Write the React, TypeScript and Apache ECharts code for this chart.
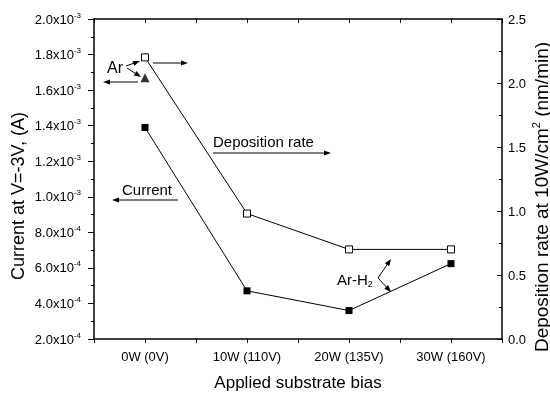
import React, { useEffect, useRef } from "react";
import * as echarts from "echarts";

const categories = ["0W (0V)", "10W (110V)", "20W (135V)", "30W (160V)"];
const currentValues = [1.39e-3, 4.71e-4, 3.6e-4, 6.24e-4];
const depositionValues = [2.2, 0.98, 0.7, 0.7];
const arTriangle = [[0, 1.67e-3]];

const FONT = "'Liberation Sans', Arial, Helvetica, sans-serif";

function arrow(x1: number, y1: number, x2: number, y2: number) {
  const dx = x2 - x1, dy = y2 - y1;
  const len = Math.sqrt(dx * dx + dy * dy);
  const ux = dx / len, uy = dy / len;
  const L = 7, W = 2.6;
  const bx = x2 - ux * L, by = y2 - uy * L;
  return [
    { type: "line", shape: { x1, y1, x2: bx + ux * 1, y2: by + uy * 1 }, style: { stroke: "#000", lineWidth: 1 }, z: 10 },
    {
      type: "polygon",
      shape: { points: [[x2, y2], [bx - uy * W, by + ux * W], [bx + uy * W, by - ux * W]] },
      style: { fill: "#000" },
      z: 10,
    },
  ];
}

function sciLabel(v: number) {
  const e = Math.floor(Math.log10(v) + 1e-9);
  const m = v / Math.pow(10, e);
  return `{m|${m.toFixed(1)}x10}{s|${e}}`;
}

export default function App() {
  const ref = useRef<HTMLDivElement>(null);
  useEffect(() => {
    if (!ref.current) return;
    const chart = echarts.init(ref.current, undefined, { renderer: "svg" });
    const axisLine = { show: true, onZero: false, lineStyle: { color: "#000", width: 1.5 } };
    const txt = (text: string, x: number, y: number, size = 15, extra: any = {}) => ({
      type: "text",
      x,
      y,
      z: 10,
      style: { text, fontSize: size, fontFamily: FONT, fill: "#000", align: "left", verticalAlign: "middle", ...extra },
    });
    chart.setOption({
      animation: false,
      grid: { left: 94, right: 48, top: 19, bottom: 51, containLabel: false },
      xAxis: [
        {
          type: "value",
          position: "bottom",
          min: -0.5,
          max: 3.5,
          interval: 0.5,
          axisLine,
          axisTick: { show: true, length: 4, lineStyle: { color: "#000" } },
          splitLine: { show: false },
          axisLabel: {
            margin: 11,
            fontSize: 13,
            fontFamily: FONT,
            color: "#000",
            formatter: (v: number) => (Number.isInteger(v) && v >= 0 && v < categories.length ? categories[v] : ""),
          },
          name: "Applied substrate bias",
          nameLocation: "middle",
          nameGap: 35,
          nameTextStyle: { fontSize: 17, fontFamily: FONT, color: "#000" },
        },
        {
          type: "value",
          position: "top",
          min: -0.5,
          max: 3.5,
          interval: 0.5,
          axisLine,
          axisTick: { show: true, inside: true, length: 4, lineStyle: { color: "#000" } },
          axisLabel: { show: false },
          splitLine: { show: false },
        },
      ],
      yAxis: [
        {
          type: "value",
          position: "left",
          min: 2e-4,
          max: 2e-3,
          interval: 2e-4,
          axisLine,
          axisTick: { show: true, length: 6, lineStyle: { color: "#000" } },
          minorTick: { show: true, splitNumber: 2, length: 3, lineStyle: { color: "#000" } },
          splitLine: { show: false },
          axisLabel: {
            margin: 13,
            formatter: sciLabel,
            rich: {
              m: { fontSize: 13, fontFamily: FONT, color: "#000", lineHeight: 16 },
              s: { fontSize: 8, fontFamily: FONT, color: "#000", lineHeight: 9, verticalAlign: "top" },
            },
          },
        },
        {
          type: "value",
          position: "right",
          min: 0,
          max: 2.5,
          interval: 0.5,
          axisLine,
          axisTick: { show: true, inside: true, length: 5, lineStyle: { color: "#000" } },
          minorTick: { show: true, splitNumber: 2, length: 3, lineStyle: { color: "#000" } },
          splitLine: { show: false },
          axisLabel: {
            margin: 6,
            fontSize: 13,
            fontFamily: FONT,
            color: "#000",
            formatter: (v: number) => v.toFixed(1),
          },
        },
      ],
      series: [
        {
          type: "line",
          name: "Current",
          yAxisIndex: 0,
          data: currentValues.map((v, i) => [i, v]),
          symbol: "rect",
          symbolSize: 7,
          lineStyle: { color: "#000", width: 1 },
          itemStyle: { color: "#000" },
          z: 3,
        },
        {
          type: "line",
          name: "Deposition rate",
          yAxisIndex: 1,
          data: depositionValues.map((v, i) => [i, v]),
          symbol: "rect",
          symbolSize: 7,
          lineStyle: { color: "#000", width: 1 },
          itemStyle: { color: "#fff", borderColor: "#000", borderWidth: 1 },
          z: 3,
        },
        {
          type: "scatter",
          name: "Ar",
          yAxisIndex: 0,
          data: arTriangle,
          symbol: "triangle",
          symbolSize: 9,
          itemStyle: { color: "#000" },
          z: 4,
        },
      ],
      graphic: [
        txt("Ar", 107, 67, 16),
        ...arrow(126, 66, 140, 61),
        ...arrow(127, 68, 141, 77),
        ...arrow(138, 82, 103, 82),
        ...arrow(153, 63, 188, 63),
        txt("Deposition rate", 213, 141, 15),
        ...arrow(213, 153, 331, 153),
        txt("Current", 122, 189, 15),
        ...arrow(178, 200, 112, 200),
        {
          type: "text",
          x: 337,
          y: 279,
          z: 10,
          style: {
            text: "{a|Ar-H}{b|2}",
            align: "left",
            verticalAlign: "middle",
            rich: {
              a: { fontSize: 15, fontFamily: FONT, fill: "#000", color: "#000", lineHeight: 18 },
              b: { fontSize: 9, fontFamily: FONT, fill: "#000", color: "#000", lineHeight: 10, verticalAlign: "bottom" },
            },
          },
        },
        ...arrow(378, 278, 391, 259),
        ...arrow(378, 278, 391, 292),
        {
          type: "text",
          x: 18,
          y: 196,
          rotation: Math.PI / 2,
          style: { text: "Current at V=-3V, (A)", fontSize: 18, fontFamily: FONT, fill: "#000", align: "center", verticalAlign: "middle" },
        },
        {
          type: "text",
          x: 541,
          y: 197,
          rotation: Math.PI / 2,
          style: {
            text: "{a|Deposition rate at 10W/cm}{b|2}{a| (nm/min)}",
            align: "center",
            verticalAlign: "middle",
            rich: {
              a: { fontSize: 19, fontFamily: FONT, fill: "#000", color: "#000", lineHeight: 22 },
              b: { fontSize: 11, fontFamily: FONT, fill: "#000", color: "#000", lineHeight: 12, verticalAlign: "top" },
            },
          },
        },
      ],
    });
    return () => chart.dispose();
  }, []);
  return <div ref={ref} style={{ position: "fixed", left: 0, top: 0, width: 550, height: 396 }} />;
}
